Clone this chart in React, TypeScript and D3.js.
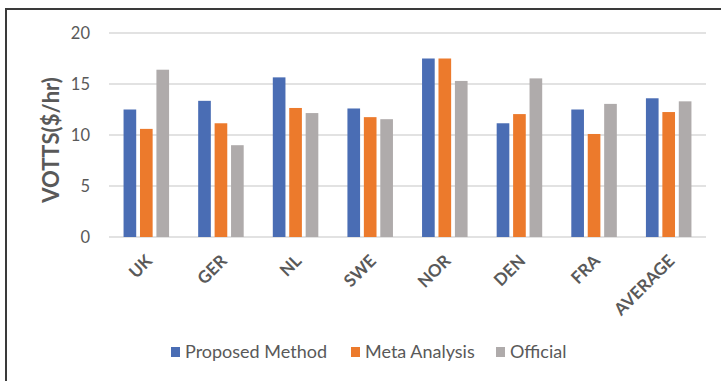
import React from "react";
import * as d3 from "d3";

const countries = ["UK", "GER", "NL", "SWE", "NOR", "DEN", "FRA", "AVERAGE"];
const seriesNames = ["Proposed Method", "Meta Analysis", "Official"];
const proposed = [12.5, 13.35, 15.65, 12.6, 17.5, 11.15, 12.5, 13.6];
const meta = [10.6, 11.15, 12.65, 11.75, 17.5, 12.05, 10.1, 12.25];
const official = [16.4, 9.0, 12.15, 11.55, 15.3, 15.55, 13.05, 13.3];
const yTicks = [0, 5, 10, 15, 20];
const colors = ["#4a6db4", "#ec7a2c", "#afabab"];

const App = (): React.JSX.Element => {
  const width = 721;
  const height = 381;
  const left = 109;
  const right = 706;
  const top = 33;
  const bottom = 237;
  const font = "Lato, 'Open Sans', sans-serif";

  const x = d3.scaleBand<string>().domain(countries).range([left, right]).paddingInner(0.39).paddingOuter(0.195);
  const xs = d3.scaleBand<string>().domain(seriesNames).range([0, x.bandwidth()]).paddingInner(0.23);
  const y = d3.scaleLinear().domain([0, 20]).range([bottom, top]);
  const series = [proposed, meta, official];

  const legendX = [171, 351, 496];

  return (
    <svg width={width} height={height} style={{ position: "absolute", left: 0, top: 0, background: "#fff" }}>
      <path d={`M6,${height} V9 H${width}`} fill="none" stroke="#3a3a3a" strokeWidth="2" />
      <g>
        {yTicks.map((t) => (
          <g key={t}>
            <line x1={left} x2={right} y1={y(t)} y2={y(t)} stroke="#d9d9d9" strokeWidth="1.3" />
            <text x={90} y={y(t)} dy="0.35em" textAnchor="end" fontFamily={font} fontSize="16.5" fill="#595959">
              {t}
            </text>
          </g>
        ))}
      </g>
      <text
        transform={`translate(51,${(top + bottom) / 2 + 5}) rotate(-90)`}
        textAnchor="middle"
        dy="0.35em"
        fontFamily={font}
        fontSize="22"
        fontWeight="bold"
        fill="#595959"
      >
        VOTTS($/hr)
      </text>
      {series.map((vals, si) => (
        <g key={si} fill={colors[si]}>
          {countries.map((c, i) => (
            <rect
              key={c}
              x={(x(c) as number) + (xs(seriesNames[si]) as number)}
              y={y(vals[i])}
              width={xs.bandwidth()}
              height={y(0) - y(vals[i])}
            />
          ))}
        </g>
      ))}
      <g>
        {countries.map((c) => {
          const cx = (x(c) as number) + x.bandwidth() / 2 + 7;
          return (
            <text
              key={c}
              transform={`translate(${cx},262) rotate(-45)`}
              textAnchor="end"
              fontFamily={font}
              fontSize="17"
              fontWeight="bold"
              fill="#595959"
            >
              {c}
            </text>
          );
        })}
      </g>
      <g>
        {seriesNames.map((s, i) => (
          <g key={s}>
            <rect x={legendX[i]} y={347} width={9} height={10} fill={colors[i]} />
            <text x={legendX[i] + 14} y={352} dy="0.35em" fontFamily={font} fontSize="18" fill="#595959">
              {s}
            </text>
          </g>
        ))}
      </g>
    </svg>
  );
};

export default App;
